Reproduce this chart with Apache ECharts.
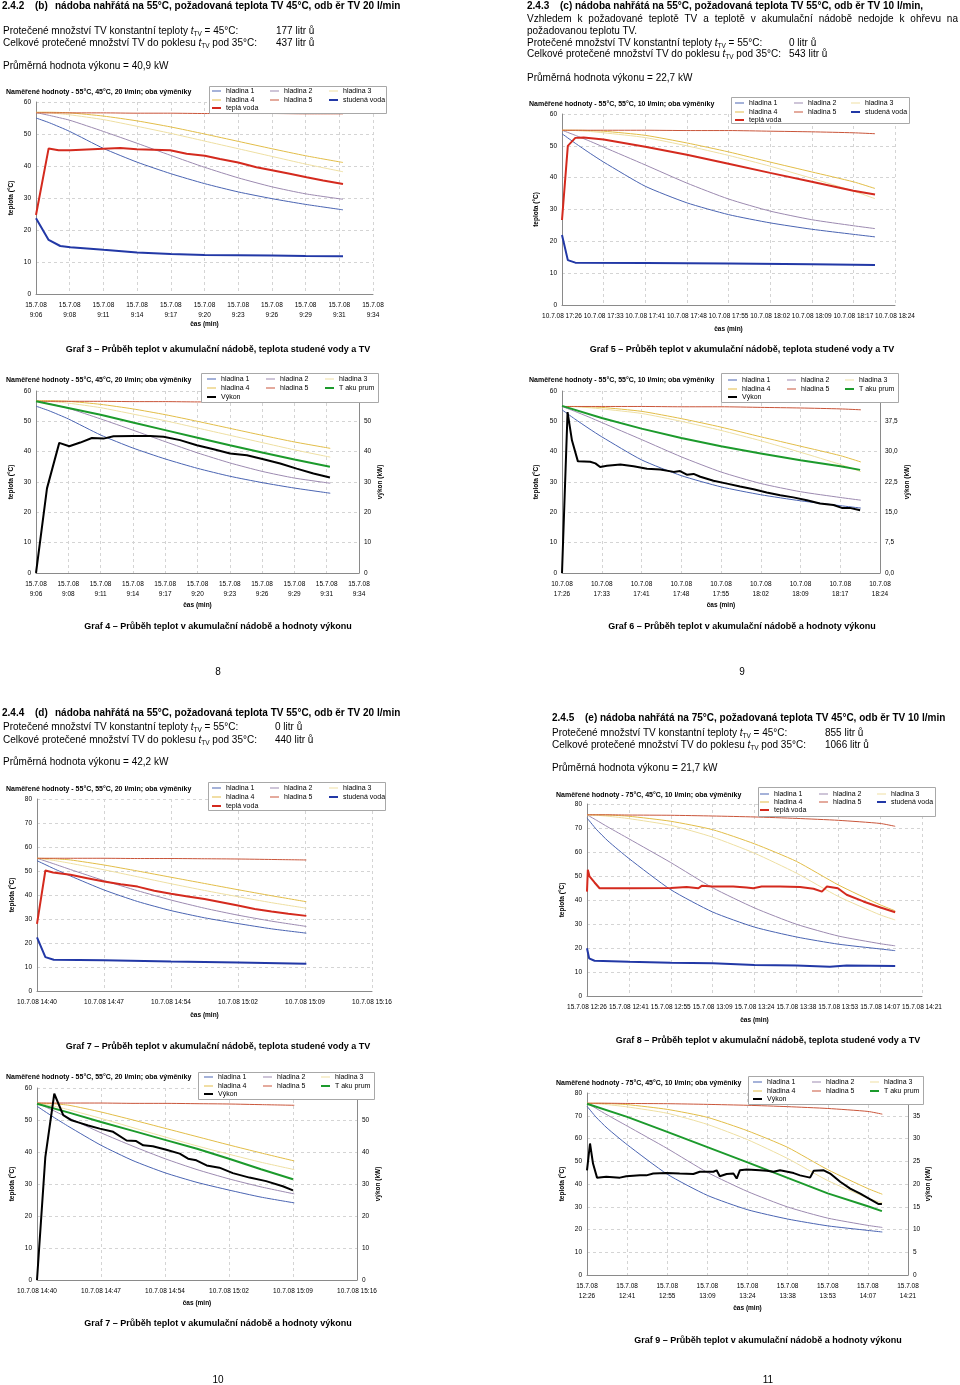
<!DOCTYPE html>
<html><head><meta charset="utf-8">
<script src="https://cdn.jsdelivr.net/npm/echarts@6/dist/echarts.min.js"></script>
<style>
html,body{margin:0;padding:0;background:#fff;}
#page{position:relative;width:960px;height:1385px;overflow:hidden;font-family:'Liberation Sans',Arial,sans-serif;color:#000;background:#fff;}
#c{position:absolute;left:0;top:0;width:960px;height:1385px;}
.t{position:absolute;white-space:nowrap;font-size:10px;line-height:12px;}
.b{font-weight:bold;}
.cap{font-weight:bold;font-size:9px;transform:translateX(-50%);}
.ctr{transform:translateX(-50%);}
.j{text-align:justify;text-align-last:justify;white-space:normal;}
sub{font-size:6.5px;vertical-align:-2px;line-height:0;}
</style></head><body><div id="page"><div id="c"></div></div>
<script>
// ===== DATA (times are elapsed time in units of the x-axis label spacing) =====
// B: 55 °C, 45 °C, 20 l/min  (Graf 3, Graf 4)
const bDate = '15.7.08';
const bTicks = ['9:06','9:08','9:11','9:14','9:17','9:20','9:23','9:26','9:29','9:31','9:34'];
const bT   = [0, 0.4, 1, 2, 3, 4, 5, 6, 7, 8, 9.11];
const bH1  = [55, 53.5, 50.8, 45.5, 41.2, 37.6, 34.5, 31.9, 29.8, 28, 26.3];
const bH2  = [56.7, 55.8, 54.3, 50.8, 47.1, 43.3, 39.6, 36.3, 33.5, 31.3, 29.6];
const bH3  = [56.7, 56.6, 56, 54.5, 52.4, 50.2, 47.8, 45.4, 43, 40.6, 38.2];
const bH4  = [56.8, 56.8, 56.6, 55.6, 54.1, 52.2, 50, 47.7, 45.4, 43.2, 41.1];
const bH5  = [56.6, 56.6, 56.6, 56.6, 56.5, 56.5, 56.4, 56.4, 56.4, 56.3, 56.3];
const bTwT = [0, 0.375, 0.67, 1.02, 2, 2.5, 2.99, 3.48, 3.98, 4.47, 5.01, 5.46, 6, 6.54, 7.04, 7.53, 8.03, 8.52, 9.11];
const bTw  = [24.7, 45.5, 44.9, 44.9, 45.4, 45.6, 45.2, 45.1, 44.9, 43.8, 43.2, 42.2, 41.1, 39.6, 38.6, 37.6, 36.5, 35.5, 34.4];
const bCwT = [0, 0.375, 0.72, 1.02, 2, 3, 4, 5, 6, 7, 8, 9.11];
const bCw  = [23.7, 16.9, 15, 14.6, 13.8, 13, 12.5, 12.2, 12.1, 12, 11.9, 11.8];
const bAkuT = [0, 1, 2, 3, 4, 5, 6, 7, 8, 9.1];
const bAku  = [56.6, 54.4, 52.2, 49.6, 47.1, 44.6, 42.1, 39.7, 37.4, 35];
const bVykT = [0, 0.34, 0.72, 1.03, 1.37, 1.73, 2.09, 2.4, 3.02, 3.54, 3.95, 4.46, 4.98, 5.5, 6.01, 6.53, 7.04, 7.56, 8.07, 8.59, 9.1];
const bVyk  = [0, 27.9, 42.9, 41.8, 43, 44.5, 44.3, 45.1, 45.2, 45.2, 44.9, 43.8, 42.1, 40.8, 39.4, 38.8, 37.5, 36.1, 34.4, 32.8, 31.5];

// C: 55 °C, 55 °C, 10 l/min  (Graf 5, Graf 6)
const cDate = '10.7.08';
const cTicks = ['17:26','17:33','17:41','17:48','17:55','18:02','18:09','18:17','18:24'];
const cT   = [0, 0.32, 0.68, 1, 2, 3, 4, 5, 6, 7, 7.52];
const cH1  = [53.8, 50.8, 47.6, 44.9, 37.3, 32.1, 28.4, 25.8, 23.8, 22.2, 21.4];
const cH2  = [54.9, 53.3, 51.4, 49.6, 44, 38.3, 33.3, 29.5, 26.8, 24.9, 24];
const cH3  = [54.9, 54.8, 54.5, 54.1, 52.6, 50, 47, 43.6, 39.8, 35.8, 33.4];
const cH4  = [54.9, 54.9, 54.8, 54.6, 53.3, 50.9, 48.1, 44.9, 41.8, 38.7, 36.6];
const cH5  = [54.9, 54.9, 54.9, 54.9, 54.9, 54.8, 54.8, 54.6, 54.4, 54.1, 53.8];
const cTwT = [0, 0.14, 0.32, 0.52, 1, 2, 3, 4, 5, 6, 7, 7.52];
const cTw  = [26.7, 50, 52.5, 52.6, 52, 49.7, 47.2, 44.4, 41.5, 38.7, 35.9, 34.7];
const cCwT = [0, 0.14, 0.32, 2, 4, 6, 7.52];
const cCw  = [22, 14.1, 13.3, 13.2, 13, 12.8, 12.6];
const cAkuT = [0, 1, 2, 3, 4, 5, 6, 7, 7.5];
const cAku  = [55.1, 51.1, 47.6, 44.5, 41.8, 39.4, 37.2, 35.2, 34];
const cVykT = [0, 0.14, 0.25, 0.4, 0.71, 0.84, 0.96, 1.13, 1.47, 1.8, 2.14, 2.47, 2.81, 2.97, 3.14, 3.31, 3.48, 3.81, 4.15, 4.48, 4.82, 5.15, 5.49, 5.82, 6.16, 6.49, 6.83, 7.04, 7.24, 7.5];
const cVyk  = [0, 39.8, 32.8, 27.6, 27.5, 27.1, 26.2, 26.5, 26.8, 26.4, 25.8, 25.6, 25, 25.2, 24.3, 24.5, 23.8, 22.8, 22.1, 21.4, 20.7, 19.9, 19.2, 18.7, 18, 17.2, 16.8, 16.1, 16.1, 15.5];

// D: 55 °C, 55 °C, 20 l/min  (Graf 7, Graf 7 výkon)
const dDate = '10.7.08';
const dTicks = ['14:40','14:47','14:54','15:02','15:09','15:16'];
const dT   = [0, 0.25, 0.5, 1, 1.5, 2, 2.5, 3, 3.5, 4.02];
const dH1  = [54.3, 51, 47.9, 42.1, 37.3, 33.5, 30.5, 28.1, 25.9, 24.1];
const dH2  = [55.3, 53, 50.6, 46, 41.8, 37.9, 34.5, 31.6, 29.1, 26.9];
const dH3  = [55.3, 54.4, 53.2, 50.5, 47.6, 44.7, 41.9, 39.3, 36.8, 34.5];
const dH4  = [55.3, 55.1, 54.6, 52.5, 50, 47.4, 44.8, 42.2, 39.7, 37.2];
const dH5  = [55.3, 55.3, 55.3, 55.3, 55.2, 55.2, 55.1, 55, 54.8, 54.6];
const dTwT = [0, 0.125, 0.24, 0.5, 0.75, 1, 1.25, 1.5, 1.75, 2, 2.25, 2.5, 2.75, 3, 3.25, 3.5, 3.75, 4.02];
const dTw  = [28, 50.2, 49.4, 48.4, 47, 45.6, 44.5, 43.5, 41.8, 40.5, 39.4, 38.3, 37, 35.6, 34.2, 33.1, 32.2, 31.3];
const dCwT = [0, 0.125, 0.25, 1, 2, 3, 4.02];
const dCw  = [22.3, 14.1, 13, 12.8, 12.3, 11.9, 11.4];
const dAkuT = [0, 0.5, 1, 1.5, 2, 2.5, 3, 3.5, 4];
const dAku  = [55.1, 52.3, 49.4, 46.6, 43.8, 41, 37.9, 34.6, 31.5];
const dVykT = [0, 0.13, 0.27, 0.41, 0.54, 0.67, 0.8, 0.98, 1.19, 1.4, 1.55, 1.66, 1.81, 2.02, 2.23, 2.36, 2.49, 2.65, 2.85, 3.06, 3.32, 3.58, 3.84, 4];
const dVyk  = [0, 38.4, 58.2, 51.5, 49.9, 49.1, 48.3, 47.3, 46.3, 43.6, 43.4, 42.1, 41.8, 40.7, 39.5, 37.9, 37.4, 35.8, 35.1, 33.4, 32, 30.9, 29.3, 28];

// E: 75 °C, 45 °C, 10 l/min  (Graf 8, Graf 9)
const eDate = '15.7.08';
const eTicks = ['12:26','12:41','12:55','13:09','13:24','13:38','13:53','14:07','14:21'];
const eT   = [0, 0.22, 0.5, 1, 2, 3, 4, 5, 6, 7, 7.36];
const eH1  = [74.2, 69.5, 64.6, 57.3, 44.3, 35, 28.7, 24.6, 21.6, 19.6, 18.9];
const eH2  = [75.5, 73.3, 70.4, 65.5, 55.6, 45.1, 36.7, 29.9, 25, 21.8, 20.9];
const eH3  = [75.5, 75.3, 74.9, 73.9, 71.1, 66.2, 59.5, 51.2, 41.5, 33.8, 31.7];
const eH4  = [75.5, 75.5, 75.4, 74.9, 72.8, 69.3, 63.4, 56.1, 46.3, 38, 35.5];
const eH5  = [75.5, 75.5, 75.5, 75.4, 75.3, 75, 74.6, 74, 73.2, 71.9, 70.7];
const eTwT = [0, 0.02, 0.06, 0.18, 0.3, 1, 2, 2.38, 2.66, 2.74, 3, 3.49, 3.81, 3.97, 4.17, 4.61, 5.09, 5.41, 5.61, 5.73, 5.99, 6.2, 6.6, 6.99, 7.36];
const eTw  = [43.5, 52.6, 49.8, 47.3, 44.9, 44.9, 45, 45.4, 44.9, 45.9, 45.6, 45.6, 45.2, 44.9, 45.6, 45.6, 45.4, 44.7, 43.5, 45.6, 44.9, 42.2, 39.4, 37, 34.9];
const eCwT = [0, 0.05, 0.18, 1, 2, 3, 4, 5, 5.8, 6.2, 7.36];
const eCw  = [19.9, 15.7, 14.7, 14.3, 13.9, 13.6, 12.9, 12.7, 12.2, 12.7, 12.5];
const eAkuT = [0, 1, 2, 3, 4, 5, 6, 7, 7.35];
const eAku  = [75.3, 69.5, 62.9, 56.2, 49.5, 42.7, 35.9, 30.2, 28.1];
const eVykT = [0, 0.075, 0.15, 0.25, 0.48, 0.82, 0.86, 0.98, 1.32, 1.48, 1.52, 1.65, 1.98, 2.31, 2.65, 2.81, 3.15, 3.23, 3.31, 3.48, 3.65, 3.73, 3.81, 3.98, 4.31, 4.48, 4.65, 4.81, 5.15, 5.31, 5.56, 5.65, 5.9, 6.06, 6.31, 6.56, 6.81, 7.06, 7.27, 7.35];
const eVyk  = [23, 28.9, 24.5, 21.4, 21.6, 21.4, 21, 21.7, 21.9, 21.9, 21.6, 22.3, 22.4, 22.3, 22.2, 22.7, 22.7, 23, 21.7, 22.2, 22.3, 21.2, 23, 23.2, 23, 22.9, 22.7, 23, 22.4, 21.9, 21.4, 22.9, 23, 22.3, 20.5, 19, 17.9, 16.6, 15.6, 15.6];

// ===== STYLE =====
const FONT = "'Liberation Sans', Arial, sans-serif";
const COL = {h1:'#4a64b2', h2:'#9c8ab0', h3:'#eedfa2', h4:'#e2bd48', h5:'#c9553a', cw:'#2238a6', tw:'#d42a1e', aku:'#1c9a2c', vyk:'#000000'};
const NAMES = {h1:'hladina 1', h2:'hladina 2', h3:'hladina 3', h4:'hladina 4', h5:'hladina 5', cw:'studená voda', tw:'teplá voda', aku:'T aku prum', vyk:'Výkon'};
const THICK = {cw:true, tw:true, aku:true, vyk:true};
const GRIDC = '#d4d4d4', AXC = '#8a8a8a';

const grids=[], xAxes=[], yAxes=[], series=[], legends=[], titles=[], graphics=[];

function yAxisCfg(gi, max, interval, pos, name, gap, fmt) {
  return {
    gridIndex: gi, type:'value', position: pos, min:0, max:max, interval:interval,
    axisLine:{show:true, lineStyle:{color:AXC, width:1}},
    axisTick:{show:false},
    axisLabel:{fontSize:6.5, color:'#000', fontFamily:FONT, margin:5, formatter: fmt || (v => String(v))},
    splitLine:{show: pos === 'left', lineStyle:{color:GRIDC, type:[3,3], width:1}},
    name:name, nameLocation:'middle', nameRotate:90, nameGap:gap,
    nameTextStyle:{fontSize:6.5, fontWeight:'bold', color:'#000', fontFamily:FONT}
  };
}

function addChart(c) {
  const gi = grids.length;
  grids.push({left:c.grid[0], top:c.grid[1], width:c.grid[2], height:c.grid[3], containLabel:false, outerBoundsMode:'none', show:false});
  const labels = c.ticks.map(t => c.twoLine ? c.date + '\n' + t : c.date + ' ' + t);
  const xi = xAxes.length;
  xAxes.push({
    gridIndex: gi, type:'value', min:0, max:labels.length-1, interval:1,
    axisLine:{show:true, onZero:false, lineStyle:{color:AXC, width:1}},
    axisTick:{show:false},
    axisLabel:{fontSize:6.5, color:'#000', fontFamily:FONT, lineHeight:10, margin:6, showMinLabel:true, showMaxLabel:true,
      formatter: v => labels[Math.round(v)] || ''},
    splitLine:{show:true, lineStyle:{color:GRIDC, type:[3,3], width:1}},
    name:'čas (min)', nameLocation:'middle', nameGap:c.xGap,
    nameTextStyle:{fontSize:6.5, fontWeight:'bold', color:'#000', fontFamily:FONT}
  });
  const yi = yAxes.length;
  yAxes.push(yAxisCfg(gi, c.yMax, 10, 'left', 'teplota (°C)', c.yGap));
  let yr = yi;
  if (c.right) {
    yAxes.push(yAxisCfg(gi, c.right.max, c.right.interval, 'right', 'výkon (kW)', c.right.gap, c.right.fmt));
    yr = yi + 1;
  }
  c.series.forEach(s => {
    const thick = !!THICK[s.k];
    series.push({
      type:'line', name:NAMES[s.k], xAxisIndex:xi, yAxisIndex: s.k === 'vyk' ? yr : yi,
      data: s.t.map((x, i) => [x, s.v[i]]),
      showSymbol:false, symbol:'none', color:COL[s.k],
      itemStyle:{color:COL[s.k], borderWidth:0},
      lineStyle:{color:COL[s.k], width: thick ? 2 : 1},
      smooth: thick ? false : 0.2,
      z: thick ? 3 : 2, silent:true, animation:false
    });
  });
  const b = c.legend.box;
  graphics.push({type:'rect', shape:{x:b[0]+0.5, y:b[1]+0.5, width:b[2], height:b[3]},
    style:{fill:'#fff', stroke:'#a8a8a8', lineWidth:1}, z:50, silent:true});
  c.legend.items.forEach(([k, col, row]) => {
    const thick = !!THICK[k];
    legends.push({
      data:[{name:NAMES[k], icon:'rect'}], left: c.legend.tx[col] - 14, top: c.legend.ry[row] - 4,
      itemWidth:9, itemHeight: thick ? 2 : 1, padding:0, itemGap:0, selectedMode:false, z:60,
      itemStyle:{borderWidth:0},
      textStyle:{fontSize:7, lineHeight:8, color:'#000', fontFamily:FONT}
    });
  });
  titles.push({text:c.title, left:c.tpos[0], top:c.tpos[1]-4, padding:0,
    textStyle:{fontSize:7, fontWeight:'bold', color:'#000', fontFamily:FONT, lineHeight:8}});
}

const STD = (T, H1, H2, H3, H4, H5) => [
  {k:'h1', t:T, v:H1}, {k:'h2', t:T, v:H2}, {k:'h3', t:T, v:H3}, {k:'h4', t:T, v:H4}, {k:'h5', t:T, v:H5}];
const ITEMS_W = [['h1',0,0],['h2',1,0],['h3',2,0],['h4',0,1],['h5',1,1],['cw',2,1],['tw',0,2]];
const ITEMS_P = [['h1',0,0],['h2',1,0],['h3',2,0],['h4',0,1],['h5',1,1],['aku',2,1],['vyk',0,2]];
const comma = v => v.toFixed(1).replace('.', ',');

addChart({grid:[36,102,337,192], date:bDate, ticks:bTicks, twoLine:true, yMax:60, xGap:20.5, yGap:21,
  title:'Naměřené hodnoty - 55°C, 45°C, 20 l/min; oba výměníky', tpos:[6,92],
  series: STD(bT,bH1,bH2,bH3,bH4,bH5).concat([{k:'cw', t:bCwT, v:bCw}, {k:'tw', t:bTwT, v:bTw}]),
  legend:{box:[209,86,177,27], tx:[226,284,343], ry:[91,100,108], items:ITEMS_W}});
addChart({grid:[36,391,323,182], date:bDate, ticks:bTicks, twoLine:true, yMax:60, xGap:28.5, yGap:21,
  right:{max:60, interval:10, gap:17.5},
  title:'Naměřené hodnoty - 55°C, 45°C, 20 l/min; oba výměníky', tpos:[6,380],
  series: STD(bT,bH1,bH2,bH3,bH4,bH5).concat([{k:'aku', t:bAkuT, v:bAku}, {k:'vyk', t:bVykT, v:bVyk}]),
  legend:{box:[201,373,177,29], tx:[221,280,339], ry:[379,388,397], items:ITEMS_P}});
addChart({grid:[562,114,333,191], date:cDate, ticks:cTicks, twoLine:false, yMax:60, xGap:20.5, yGap:22.5,
  title:'Naměřené hodnoty - 55°C, 55°C, 10 l/min; oba výměníky', tpos:[529,104],
  series: STD(cT,cH1,cH2,cH3,cH4,cH5).concat([{k:'cw', t:cCwT, v:cCw}, {k:'tw', t:cTwT, v:cTw}]),
  legend:{box:[731,97,178,26], tx:[749,808,865], ry:[103,112,120], items:ITEMS_W}});
addChart({grid:[562,391,318,182], date:cDate, ticks:cTicks, twoLine:true, yMax:60, xGap:28.5, yGap:22.5,
  right:{max:45, interval:7.5, gap:23.5, fmt:comma},
  title:'Naměřené hodnoty - 55°C, 55°C, 10 l/min; oba výměníky', tpos:[529,380],
  series: STD(cT,cH1,cH2,cH3,cH4,cH5).concat([{k:'aku', t:cAkuT, v:cAku}, {k:'vyk', t:cVykT, v:cVyk}]),
  legend:{box:[721,373,177,29], tx:[742,801,859], ry:[380,389,397], items:ITEMS_P}});
addChart({grid:[37,799,335,192], date:dDate, ticks:dTicks, twoLine:false, yMax:80, xGap:20.5, yGap:21,
  title:'Naměřené hodnoty - 55°C, 55°C, 20 l/min; oba výměníky', tpos:[6,789],
  series: STD(dT,dH1,dH2,dH3,dH4,dH5).concat([{k:'cw', t:dCwT, v:dCw}, {k:'tw', t:dTwT, v:dTw}]),
  legend:{box:[208,782,177,28], tx:[226,284,343], ry:[788,797,806], items:ITEMS_W}});
addChart({grid:[587,804,335,192], date:eDate, ticks:eTicks, twoLine:false, yMax:80, xGap:20.5, yGap:21.5,
  title:'Naměřené hodnoty - 75°C, 45°C, 10 l/min; oba výměníky', tpos:[556,795],
  series: STD(eT,eH1,eH2,eH3,eH4,eH5).concat([{k:'cw', t:eCwT, v:eCw}, {k:'tw', t:eTwT, v:eTw}]),
  legend:{box:[758,787,177,29], tx:[774,833,891], ry:[794,802,810], items:ITEMS_W}});
addChart({grid:[37,1088,320,192], date:dDate, ticks:dTicks, twoLine:false, yMax:60, xGap:19.5, yGap:21,
  right:{max:60, interval:10, gap:17.5},
  title:'Naměřené hodnoty - 55°C, 55°C, 20 l/min; oba výměníky', tpos:[6,1077],
  series: STD(dT,dH1,dH2,dH3,dH4,dH5).concat([{k:'aku', t:dAkuT, v:dAku}, {k:'vyk', t:dVykT, v:dVyk}]),
  legend:{box:[198,1072,176,27], tx:[218,277,335], ry:[1077,1086,1094], items:ITEMS_P}});
addChart({grid:[587,1093,321,182], date:eDate, ticks:eTicks, twoLine:true, yMax:80, xGap:29.5, yGap:21.5,
  right:{max:40, interval:5, gap:16.5},
  title:'Naměřené hodnoty - 75°C, 45°C, 10 l/min; oba výměníky', tpos:[556,1083],
  series: STD(eT,eH1,eH2,eH3,eH4,eH5).concat([{k:'aku', t:eAkuT, v:eAku}, {k:'vyk', t:eVykT, v:eVyk}]),
  legend:{box:[748,1076,175,28], tx:[767,826,884], ry:[1082,1091,1099], items:ITEMS_P}});

const chart = echarts.init(document.getElementById('c'), null, {renderer:'canvas', width:960, height:1385});
chart.setOption({
  animation:false, backgroundColor:'transparent',
  textStyle:{fontFamily:FONT},
  grid:grids, xAxis:xAxes, yAxis:yAxes, series:series, legend:legends, title:titles,
  graphic:{elements:graphics}, tooltip:{show:false}
});

// ===== PAGE TEXT =====
const tTV = '<i>t</i><sub>TV</sub>';
const TEXTS = [
  [2,6,'<b>2.4.2</b>'], [35,6,'<b>(b)</b>'], [55,6,'<b>nádoba nahřátá na 55°C, požadovaná teplota TV 45°C, odb ěr TV 20 l/min</b>'],
  [3,31,'Protečené množství TV konstantní teploty '+tTV+' = 45°C:'], [276,31,'177 litr ů'],
  [3,43,'Celkové protečené množství TV do poklesu '+tTV+' pod 35°C:'], [276,43,'437 litr ů'],
  [3,66,'Průměrná hodnota výkonu = 40,9 kW'],
  [527,6,'<b>2.4.3</b>'], [560,6,'<b>(c) nádoba nahřátá na 55°C, požadovaná teplota TV 55°C, odb ěr TV 10 l/min,</b>'],
  [527,31,'požadovanou teplotu TV.'],
  [527,43,'Protečené množství TV konstantní teploty '+tTV+' = 55°C:'], [789,43,'0 litr ů'],
  [527,54,'Celkové protečené množství TV do poklesu '+tTV+' pod 35°C:'], [789,54,'543 litr ů'],
  [527,78,'Průměrná hodnota výkonu = 22,7 kW'],
  [2,713,'<b>2.4.4</b>'], [35,713,'<b>(d)</b>'], [55,713,'<b>nádoba nahřátá na 55°C, požadovaná teplota TV 55°C, odb ěr TV 20 l/min</b>'],
  [3,727,'Protečené množství TV konstantní teploty '+tTV+' = 55°C:'], [275,727,'0 litr ů'],
  [3,740,'Celkové protečené množství TV do poklesu '+tTV+' pod 35°C:'], [275,740,'440 litr ů'],
  [3,762,'Průměrná hodnota výkonu = 42,2 kW'],
  [552,718,'<b>2.4.5</b>'], [585,718,'<b>(e) nádoba nahřátá na 75°C, požadovaná teplota TV 45°C, odb ěr TV 10 l/min</b>'],
  [552,733,'Protečené množství TV konstantní teploty '+tTV+' = 45°C:'], [825,733,'855 litr ů'],
  [552,745,'Celkové protečené množství TV do poklesu '+tTV+' pod 35°C:'], [825,745,'1066 litr ů'],
  [552,768,'Průměrná hodnota výkonu = 21,7 kW']
];
const CAPS = [
  [218,349,'Graf 3 – Průběh teplot v akumulační nádobě, teplota studené vody a TV'],
  [742,349,'Graf 5 – Průběh teplot v akumulační nádobě, teplota studené vody a TV'],
  [218,626,'Graf 4 – Průběh teplot v akumulační nádobě a hodnoty výkonu'],
  [742,626,'Graf 6 – Průběh teplot v akumulační nádobě a hodnoty výkonu'],
  [218,1046,'Graf 7 – Průběh teplot v akumulační nádobě, teplota studené vody a TV'],
  [768,1040,'Graf 8 – Průběh teplot v akumulační nádobě, teplota studené vody a TV'],
  [218,1323,'Graf 7 – Průběh teplot v akumulační nádobě a hodnoty výkonu'],
  [768,1340,'Graf 9 – Průběh teplot v akumulační nádobě a hodnoty výkonu']
];
const PAGES = [[218,672,'8'],[742,672,'9'],[218,1380,'10'],[768,1380,'11']];
const page = document.getElementById('page');
function addText(x, y, html, cls) {
  const d = document.createElement('div');
  d.className = 't ' + (cls || '');
  d.style.left = x + 'px'; d.style.top = (y - 6) + 'px';
  d.innerHTML = html; page.appendChild(d); return d;
}
TEXTS.forEach(([x,y,h]) => addText(x,y,h));
CAPS.forEach(([x,y,h]) => addText(x,y,h,'cap'));
PAGES.forEach(([x,y,h]) => addText(x,y,h,'ctr'));
const j = addText(527,19,'Vzhledem k požadované teplotě TV a teplotě v akumulační nádobě nedojde k ohřevu na','j');
j.style.width = '431px';
</script></body></html>
